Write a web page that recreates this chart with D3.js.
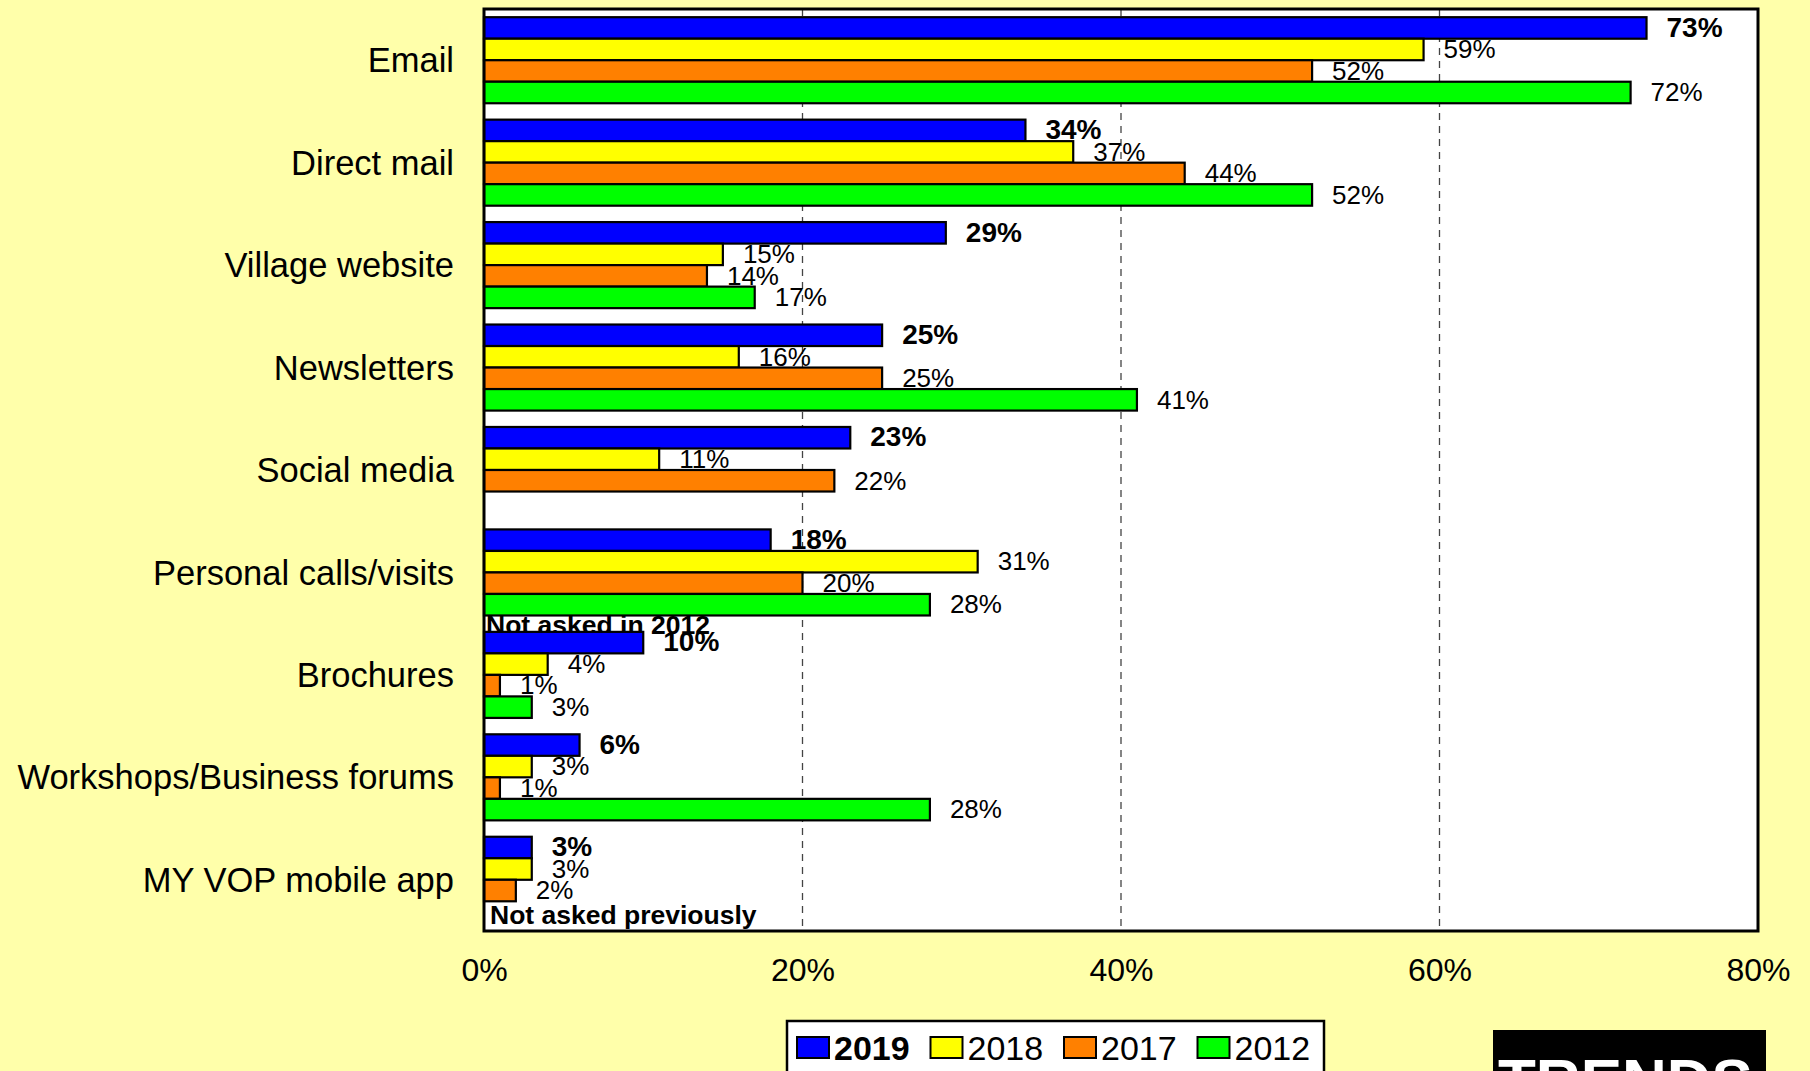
<!DOCTYPE html>
<html>
<head>
<meta charset="utf-8">
<script src="https://cdn.jsdelivr.net/npm/d3@7"></script>
<style>
  html, body { margin: 0; padding: 0; background: #FFFFAA; }
  svg { display: block; font-family: "Liberation Sans", Arial, sans-serif; }
</style>
</head>
<body>
<svg id="chart" width="1810" height="1071"></svg>
<script>
// Communication channels, share of respondents (%) per survey year
const categories = [
  "Email", "Direct mail", "Village website", "Newsletters", "Social media",
  "Personal calls/visits", "Brochures", "Workshops/Business forums", "MY VOP mobile app"
];
const seriesNames = ["2019", "2018", "2017", "2012"];
const values2019 = [73, 34, 29, 25, 23, 18, 10, 6, 3];
const values2018 = [59, 37, 15, 16, 11, 31, 4, 3, 3];
const values2017 = [52, 44, 14, 25, 22, 20, 1, 1, 2];
const values2012 = [72, 52, 17, 41, null, 28, 3, 28, null];
const seriesColors = ["#0000FF", "#FFFF00", "#FF8000", "#00FF00"];
const xTicks = [0, 20, 40, 60, 80];
const notes = [
  { text: "Not asked in 2012", after: "Personal calls/visits" },
  { text: "Not asked previously", after: "MY VOP mobile app" }
];

const seriesValues = [values2019, values2018, values2017, values2012];
const svg = d3.select("#chart");
const font = '"Liberation Sans", Arial, sans-serif';

const plot = { left: 484, right: 1758, top: 9, bottom: 931 };

const x = d3.scaleLinear().domain([0, 80]).range([plot.left, plot.right]);
const y = d3.scaleBand().domain(categories)
  .range([plot.top, plot.bottom]).paddingInner(0.16).paddingOuter(0.08);
const ySub = d3.scaleBand().domain(seriesNames).range([0, y.bandwidth()]);

// plot area
svg.append("rect")
  .attr("x", plot.left).attr("y", plot.top)
  .attr("width", plot.right - plot.left).attr("height", plot.bottom - plot.top)
  .attr("fill", "#fff");

// dashed vertical gridlines
svg.append("g").selectAll("line")
  .data(xTicks.filter(t => t > 0 && t < 80))
  .join("line")
  .attr("x1", d => x(d)).attr("x2", d => x(d))
  .attr("y1", plot.top).attr("y2", plot.bottom)
  .attr("stroke", "#444").attr("stroke-width", 1.3)
  .attr("stroke-dasharray", "7,6");

// notes sit below the group they refer to, under the bars
svg.append("g").selectAll("text")
  .data(notes)
  .join("text")
  .attr("x", (d, i) => plot.left + (i === 0 ? 2 : 6))
  .attr("y", d => {
    const i = categories.indexOf(d.after);
    const bandEnd = y(d.after) + y.bandwidth();
    return i === categories.length - 1 ? plot.bottom - 7 : bandEnd + 19;
  })
  .attr("font-size", 26.5).attr("font-weight", "bold").attr("fill", "#000")
  .text(d => d.text);

// bars and their value labels, one series after another
seriesNames.forEach((name, s) => {
  const rows = categories.map((c, i) => ({ cat: c, v: seriesValues[s][i] }))
    .filter(d => d.v !== null);
  const g = svg.append("g");
  g.selectAll("rect")
    .data(rows)
    .join("rect")
    .attr("x", x(0))
    .attr("y", d => y(d.cat) + ySub(name))
    .attr("width", d => x(d.v) - x(0))
    .attr("height", ySub.bandwidth())
    .attr("fill", seriesColors[s])
    .attr("stroke", "#000").attr("stroke-width", 2.2);
  g.selectAll("text")
    .data(rows)
    .join("text")
    .attr("x", d => x(d.v) + 20)
    .attr("y", d => y(d.cat) + ySub(name) + ySub.bandwidth() - 2)
    .attr("font-size", s === 0 ? 28 : 26)
    .attr("font-weight", s === 0 ? "bold" : "normal")
    .attr("fill", "#000")
    .text(d => d.v + "%");
});

// plot frame
svg.append("rect")
  .attr("x", plot.left).attr("y", plot.top)
  .attr("width", plot.right - plot.left).attr("height", plot.bottom - plot.top)
  .attr("fill", "none").attr("stroke", "#000").attr("stroke-width", 3);

// category axis
const yAxis = svg.append("g")
  .attr("transform", `translate(${plot.left},0)`)
  .call(d3.axisLeft(y).tickSize(0).tickPadding(30));
yAxis.select(".domain").remove();
yAxis.selectAll("text")
  .attr("font-size", 34.5).attr("font-family", font).attr("fill", "#000")
  .attr("dy", "0.35em");

// value axis
const xAxis = svg.append("g")
  .attr("transform", `translate(0,${plot.bottom})`)
  .call(d3.axisBottom(x).tickValues(xTicks).tickFormat(d => d + "%").tickSize(0).tickPadding(27));
xAxis.select(".domain").remove();
xAxis.selectAll("text")
  .attr("font-size", 32).attr("font-family", font).attr("fill", "#000");

// legend
const legend = svg.append("g");
legend.append("rect")
  .attr("x", 787).attr("y", 1021).attr("width", 537).attr("height", 70)
  .attr("fill", "#fff").attr("stroke", "#000").attr("stroke-width", 2.5);
const items = legend.selectAll("g.item")
  .data(seriesNames)
  .join("g").attr("class", "item")
  .attr("transform", (d, i) => `translate(${797 + i * 133.5},0)`);
items.append("rect")
  .attr("x", 0).attr("y", 1037).attr("width", 32).attr("height", 21)
  .attr("fill", (d, i) => seriesColors[i])
  .attr("stroke", "#000").attr("stroke-width", 2);
items.append("text")
  .attr("x", 37).attr("y", 1060)
  .attr("font-size", 34)
  .attr("font-weight", (d, i) => i === 0 ? "bold" : "normal")
  .attr("fill", "#000")
  .text(d => d);

// badge in the lower right corner
svg.append("rect")
  .attr("x", 1493).attr("y", 1030).attr("width", 273).attr("height", 60)
  .attr("fill", "#000");
svg.append("text")
  .attr("x", 1498).attr("y", 1102)
  .attr("font-size", 62).attr("font-weight", "bold").attr("fill", "#fff")
  .text("TRENDS");
</script>
</body>
</html>
